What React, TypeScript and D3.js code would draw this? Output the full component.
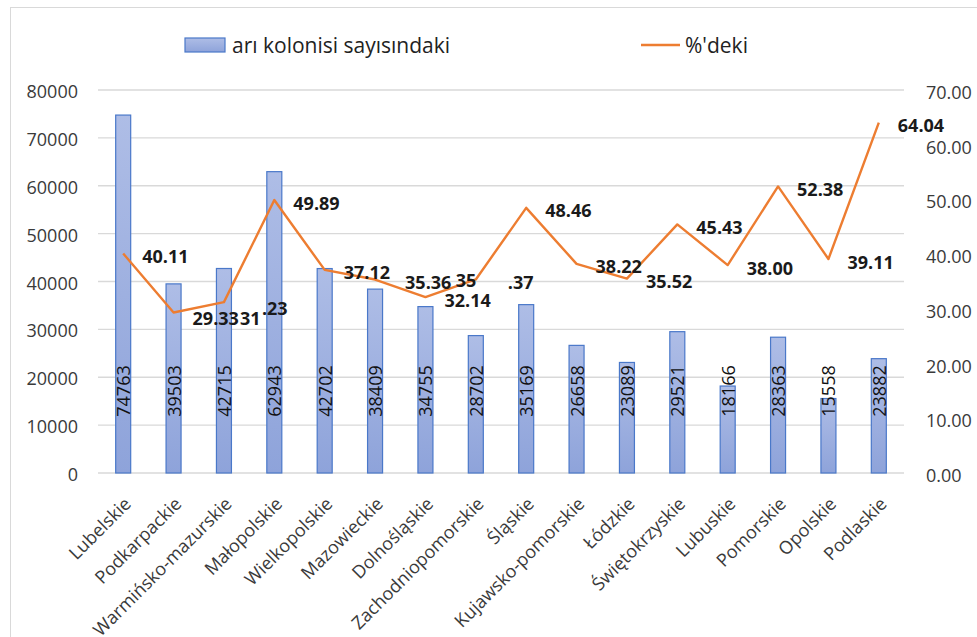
import React from "react";
import * as d3 from "d3";

const categories = [
  "Lubelskie", "Podkarpackie", "Warmińsko-mazurskie", "Małopolskie", "Wielkopolskie",
  "Mazowieckie", "Dolnośląskie", "Zachodniopomorskie", "Śląskie", "Kujawsko-pomorskie",
  "Łódzkie", "Świętokrzyskie", "Lubuskie", "Pomorskie", "Opolskie", "Podlaskie",
];
const colonies = [74763, 39503, 42715, 62943, 42702, 38409, 34755, 28702, 35169, 26658, 23089, 29521, 18166, 28363, 15558, 23882];
const percents = [40.11, 29.33, 31.23, 49.89, 37.12, 35.36, 32.14, 35.37, 48.46, 38.22, 35.52, 45.43, 38.0, 52.38, 39.11, 64.04];
const leftTicks = [0, 10000, 20000, 30000, 40000, 50000, 60000, 70000, 80000];
const rightTicks = [0, 10, 20, 30, 40, 50, 60, 70];
const seriesNames = ["arı kolonisi sayısındaki", "%'deki"];

const W = 977;
const H = 637;
const FONT = "'Open Sans', 'Noto Sans', sans-serif";

export default function App() {
  const x = d3.scaleBand<string>().domain(categories).range([98, 904]).padding(0);
  const yL = d3.scaleLinear().domain([0, 80000]).range([473, 90]);
  const yR = d3.scaleLinear().domain([0, 70]).range([473, 90]);
  const bw = 15;
  const cx = (c: string) => (x(c) as number) + x.bandwidth() / 2;
  const fmt = d3.format(".2f");

  const line = d3
    .line<number>()
    .x((_, i) => cx(categories[i]))
    .y((d) => yR(d));

  const lineLabel = (v: number, i: number) => {
    const px = cx(categories[i]);
    const py = yR(v);
    const s = fmt(v);
    const common = {
      fontFamily: FONT,
      fontSize: 18,
      fontWeight: 700,
      fill: "#1a1a1a",
      dominantBaseline: "central" as const,
    };
    if (i === 2) {
      const [a, b] = s.split(".");
      return (
        <g key={"ll" + i}>
          <text x={px + 16} y={py + 16} {...common}>{a}</text>
          <text x={px + 38} y={py + 6} {...common}>{"." + b}</text>
        </g>
      );
    }
    if (i === 7) {
      const [a, b] = s.split(".");
      return (
        <g key={"ll" + i}>
          <text x={px - 20} y={py + 1} {...common}>{a}</text>
          <text x={px + 32} y={py + 3} {...common}>{"." + b}</text>
        </g>
      );
    }
    let dx = 19;
    let dy = 2.5;
    if (i === 5) dx = 30;
    if (i === 1) dy = 5;
    return (
      <text key={"ll" + i} x={px + dx} y={py + dy} {...common}>
        {s}
      </text>
    );
  };

  return (
    <svg
      width={W}
      height={H}
      style={{ position: "absolute", left: 0, top: 0, background: "#fff" }}
    >
      <defs>
        <linearGradient id="barGrad" x1="0" y1="0" x2="0" y2="1">
          <stop offset="0%" stopColor="#aebde6" />
          <stop offset="100%" stopColor="#8ea3da" />
        </linearGradient>
      </defs>
      <rect x={10.5} y={7.5} width={W + 10} height={H + 10} fill="#fff" stroke="#d9d9d9" strokeWidth={1} />

      {/* gridlines */}
      {leftTicks.map((t) => (
        <line key={"g" + t} x1={98} x2={904} y1={yL(t)} y2={yL(t)} stroke="#d9d9d9" strokeWidth={1.3} />
      ))}

      {/* left axis labels */}
      {leftTicks.map((t) => (
        <text
          key={"lt" + t}
          x={78}
          y={yL(t) + 1}
          textAnchor="end"
          dominantBaseline="central"
          fontFamily={FONT}
          fontSize={18}
          fill="#3a3a3a"
        >
          {t}
        </text>
      ))}

      {/* right axis labels */}
      {rightTicks.map((t) => (
        <text
          key={"rt" + t}
          x={926}
          y={yR(t) + 2}
          textAnchor="start"
          dominantBaseline="central"
          fontFamily={FONT}
          fontSize={18}
          fill="#3a3a3a"
        >
          {fmt(t)}
        </text>
      ))}

      {/* bars */}
      {colonies.map((v, i) => (
        <rect
          key={"b" + i}
          x={cx(categories[i]) - bw / 2}
          y={yL(v)}
          width={bw}
          height={yL(0) - yL(v)}
          fill="url(#barGrad)"
          stroke="#4a78c9"
          strokeWidth={1.2}
        />
      ))}

      {/* bar labels */}
      {colonies.map((v, i) => (
        <text
          key={"bl" + i}
          transform={`translate(${cx(categories[i])},391) rotate(-90)`}
          textAnchor="middle"
          dominantBaseline="central"
          fontFamily={FONT}
          fontSize={18}
          fontWeight={500}
          fill="#111"
        >
          {v}
        </text>
      ))}

      {/* line */}
      <path d={line(percents) || ""} fill="none" stroke="#ed7d31" strokeWidth={2.4} strokeLinejoin="round" />

      {/* line labels */}
      {percents.map((v, i) => lineLabel(v, i))}

      {/* x labels */}
      {categories.map((c) => (
        <text
          key={"x" + c}
          transform={`translate(${cx(c) + 9},505) rotate(-45)`}
          textAnchor="end"
          fontFamily={FONT}
          fontSize={18}
          fill="#3a3a3a"
        >
          {c}
        </text>
      ))}

      {/* legend */}
      <rect x={185} y={38} width={40} height={14} fill="url(#barGrad)" stroke="#4a78c9" strokeWidth={1.2} />
      <text x={232} y={45} dominantBaseline="central" fontFamily={FONT} fontSize={21} fill="#222">
        {seriesNames[0]}
      </text>
      <line x1={641} x2={680} y1={45} y2={45} stroke="#ed7d31" strokeWidth={2.4} />
      <text x={685} y={45} dominantBaseline="central" fontFamily={FONT} fontSize={21} fill="#222">
        {seriesNames[1]}
      </text>
    </svg>
  );
}
